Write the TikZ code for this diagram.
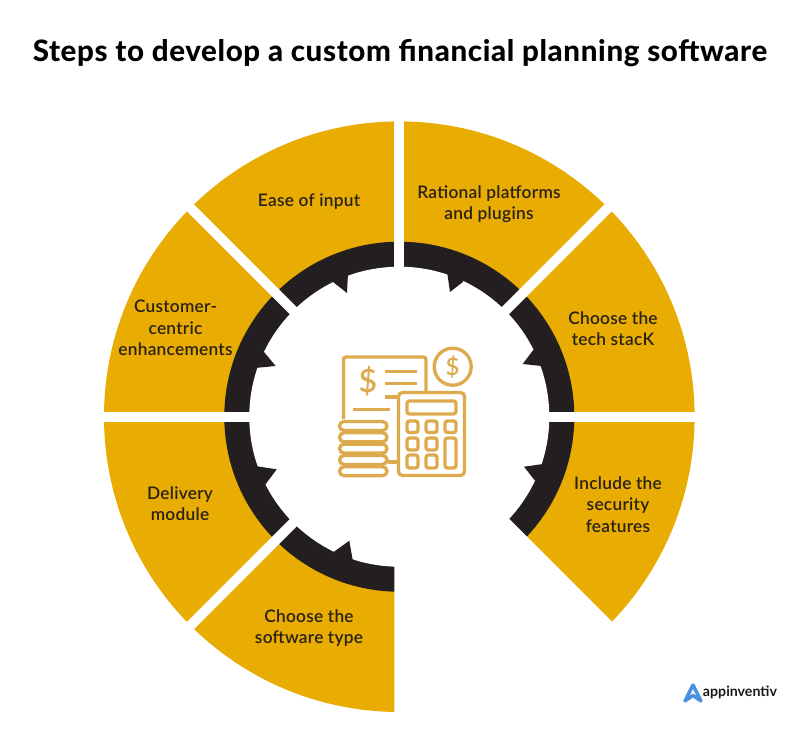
\documentclass[tikz,border=0pt]{standalone}
\usepackage{fontspec}
\setmainfont{Lato}
\newfontfamily\labf{Lato Semibold}[LetterSpace=1.5]
\newfontfamily\titlef{Lato Heavy}[LetterSpace=2.2]
\newfontfamily\usdf{Lato Semibold}
\definecolor{petal}{HTML}{E8AC03}
\definecolor{ringk}{HTML}{231F20}
\definecolor{labk}{HTML}{2A2117}
\definecolor{iconc}{HTML}{DDAB4E}
\definecolor{logob}{HTML}{4A90E2}
\tikzset{
  x=1pt,y=-1pt,
  gap/.style={line width=10pt,white},
  tooth/.style={fill=ringk},
  lab/.style={font=\labf\fontsize{17.3}{21.3}\selectfont,text=labk,align=center,inner sep=0pt},
  ic/.style={draw=iconc,line width=3.3pt,fill=white,rounded corners=2.5pt},
  icl/.style={draw=iconc,line width=3.3pt},
  coin/.style={draw=iconc,line width=3.3pt,fill=white,rounded corners=4.5pt},
  usd/.style={text=iconc,inner sep=0pt},
}
\begin{document}
\begin{tikzpicture}
\useasboundingbox (0,0) rectangle (801,744);
\fill[white] (0,0) rectangle (801,744);
\coordinate (c) at (399.3,416.7);
% rings
\fill[petal] (c) circle[radius=295.3pt];
\fill[ringk] (c) circle[radius=175pt];
\fill[white] (c) circle[radius=150pt];
% teeth
\fill[tooth] (348,273) -- (347,293) -- (333,282) -- (341,265) -- cycle;
\fill[tooth] (264,352) -- (275.7,366) -- (255,368) -- (248,355) -- cycle;
\fill[tooth] (447.3,273.3) -- (450,292) -- (463.3,281.7) -- (457,265) -- cycle;
\fill[tooth] (533.3,350) -- (522.7,364) -- (541.7,366) -- (550,356) -- cycle;
\fill[tooth] (543.3,464) -- (524,466.7) -- (535,480.7) -- (550,474) -- cycle;
\fill[tooth] (255,466) -- (276.7,469.3) -- (265,485) -- (249,476) -- cycle;
\fill[tooth] (334,551.7) -- (349.3,540.7) -- (352.7,560) -- (341,567) -- cycle;
% missing sector
\fill[white] (394.3,403.8) -- (740,749.5) -- (394.3,749.5) -- cycle;
% gaps
\draw[gap] (c) -- ++(0,-310);
\draw[gap] (c) -- ++(310,0);
\draw[gap] (c) -- ++(-310,0);
\draw[gap] (c) -- ++(225,-225);
\draw[gap] (c) -- ++(-225,-225);
\draw[gap] (c) -- ++(-225,225);
% labels
\node[font=\titlef\fontsize{29.5}{34}\selectfont,text=black,inner sep=0pt] (title) at (400,53) {Steps to develop a custom financial planning software};
\node[lab] (l1) at (489,204.5) {Rational platforms\\and plugins};
\node[lab] (l2) at (613,329) {Choose the\\tech stacK};
\node[lab] (l3) at (618,504.5) {Include the\\security\\features};
\node[lab] (l4) at (309,628) {Choose the\\software type};
\node[lab] (l5) at (180,504) {Delivery\\module};
\node[lab] (l6) at (175.5,328) {Customer-\\centric\\enhancements};
\node[lab] (l7) at (309,201.5) {Ease of input};
% icon: document
\draw[ic,fill=none] (343.5,419) -- (343.5,357) -- (426,357) -- (426,391);
\node[usd,font=\usdf\fontsize{32}{32}\selectfont] (d1) at (368,381) {\$};
\draw[icl] (385,371.5) -- (417,371.5);
\draw[icl] (385,383.5) -- (417,383.5);
\draw[icl] (385,397) -- (397,397);
\draw[icl] (353,409.5) -- (390,409.5);
% icon: coin
\draw[icl] (c.center) ++(53.4,-50) circle[radius=18.5pt];
\node[usd,font=\usdf\fontsize{24}{24}\selectfont] (d2) at (452.7,366.7) {\$};
% icon: calculator
\draw[icl] (388,462) -- (398.5,462);
\draw[ic,rounded corners=4pt] (398.5,392.5) rectangle (464.5,475.5);
\draw[ic] (407,401) rectangle (456,414);
\foreach \xa/\xb in {407/418,426/437,445/456}
  \draw[ic] (\xa,421) rectangle (\xb,432.5);
\foreach \xa/\xb in {407/418,426/437}{
  \draw[ic] (\xa,438) rectangle (\xb,450);
  \draw[ic] (\xa,455) rectangle (\xb,468);}
\draw[ic] (445,438) rectangle (456,468);
% icon: stack of coins
\foreach \ya in {421.5,432.8,444.1,455.4,466.7}
  \draw[coin] (339.5,\ya) rectangle (387,\ya+9);
% logo
\draw[logob,line width=3.4pt,line join=round,line cap=round] (685,701) -- (693,685) -- (701,701) -- (693,695.5) -- cycle;
\node[font=\bfseries\fontsize{14.2}{16}\selectfont,text=black!90,inner sep=0pt] (logo) at (740,692) {appinventiv};
\end{tikzpicture}
\end{document}
